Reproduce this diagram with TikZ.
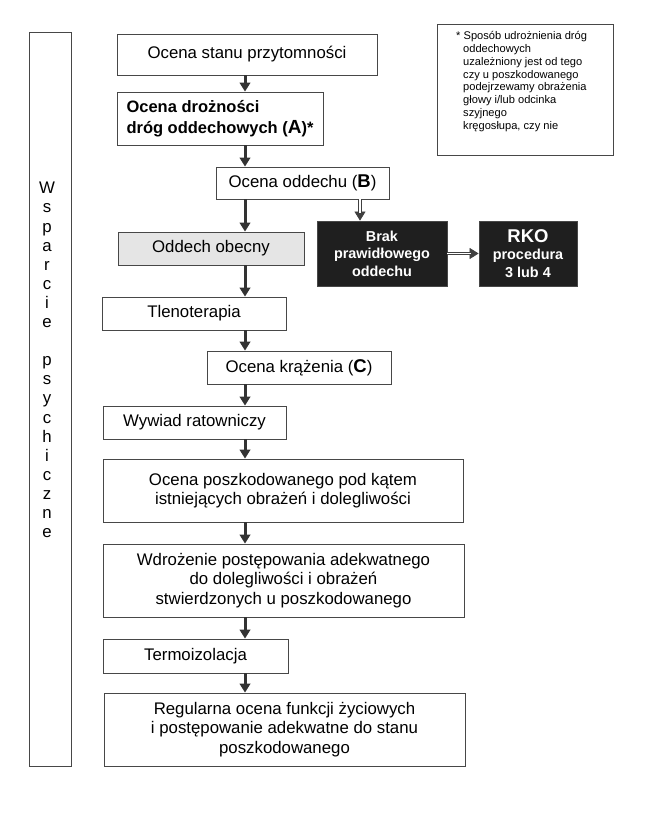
\documentclass[tikz,border=0pt]{standalone}
\usepackage{fontspec}
\setmainfont{Liberation Sans}
\usetikzlibrary{arrows.meta}
\begin{document}
\begin{tikzpicture}[x=1pt,y=-1pt,
  box/.style={draw=black!72, line width=0.8pt, inner sep=0pt, align=center,
    font=\fontsize{16.8}{19.5}\selectfont},
  greybox/.style={box, fill=black!10},
  darkbox/.style={box, fill=black!88, text=white, font=\bfseries\fontsize{14.4}{17.5}\selectfont},
  arr/.style={draw=black!80, line width=3pt, -{Triangle[length=9pt,width=10.5pt]}},
  dtip/.style={draw=black!75, fill=black!75, line width=0.6pt, -{Triangle[length=9pt,width=11pt]}},
  dshaft/.style={draw=black!75, line width=0.7pt, double=white, double distance=1.8pt, shorten >=8pt}]
\fill[white] (0,0) rectangle (648,816);
\useasboundingbox (0,0) rectangle (648,816);

% left column
\node[box, minimum width=42pt, minimum height=734pt] (side) at (50,399) {};
\node[inner sep=0pt, align=center, font=\fontsize{16.8}{19.1}\selectfont] (sidetxt) at (47,360)
  {W\\s\\p\\a\\r\\c\\i\\e\\[19.1pt]p\\s\\y\\c\\h\\i\\c\\z\\n\\e};

% note
\node[box, minimum width=176pt, minimum height=131pt] (note) at (525,89.5) {};
\node[inner sep=0pt, anchor=north west, align=left, font=\fontsize{11.1}{12.9}\selectfont] (notetxt) at (456,31)
  {* Sposób udrożnienia dróg\\
   \hspace*{7pt}oddechowych\\
   \hspace*{7pt}uzależniony jest od tego\\
   \hspace*{7pt}czy u poszkodowanego\\
   \hspace*{7pt}podejrzewamy obrażenia\\
   \hspace*{7pt}głowy i/lub odcinka\\
   \hspace*{7pt}szyjnego\\
   \hspace*{7pt}kręgosłupa, czy nie};

% main chain
\node[box, minimum width=260pt, minimum height=41pt] (b1) at (247,54.5) {Ocena stanu przytomności};
\node[box, minimum width=206pt, minimum height=53pt, align=left, font=\bfseries\fontsize{16.5}{21}\selectfont] (b2) at (220,118.5)
  {Ocena drożności\\dróg oddechowych ({\fontsize{19}{21}\selectfont A})*};
\node[box, minimum width=173pt, minimum height=32pt] (b3) at (302.5,183)
  {Ocena oddechu ({\bfseries\fontsize{18.5}{19.5}\selectfont B})};
\node[greybox, minimum width=186pt, minimum height=33pt] (obecny) at (211,248.5) {Oddech obecny};
\node[darkbox, minimum width=130pt, minimum height=65pt] (brak) at (382,253.5) {Brak\\prawidłowego\\oddechu};
\node[darkbox, minimum width=98pt, minimum height=65pt] (rko) at (528,253.5)
  {{\fontsize{18.5}{18.5}\selectfont RKO}\\procedura\\3 lub 4};
\node[box, minimum width=184pt, minimum height=33pt] (tleno) at (194,313.5) {Tlenoterapia};
\node[box, minimum width=184pt, minimum height=33pt] (kraz) at (299,367.5)
  {Ocena krążenia ({\bfseries\fontsize{18.5}{19.5}\selectfont C})};
\node[box, minimum width=183pt, minimum height=33pt] (wywiad) at (194.5,422.5) {Wywiad ratowniczy};
\node[box, minimum width=360pt, minimum height=63pt] (poszk) at (283,490.5)
  {Ocena poszkodowanego pod kątem\\istniejących obrażeń i dolegliwości};
\node[box, minimum width=361pt, minimum height=73pt] (wdroz) at (283.5,580.5)
  {Wdrożenie postępowania adekwatnego\\do dolegliwości i obrażeń\\stwierdzonych u poszkodowanego};
\node[box, minimum width=185pt, minimum height=34pt] (termo) at (195.5,656) {Termoizolacja};
\node[box, minimum width=361pt, minimum height=73pt] (regul) at (284.5,729.5)
  {Regularna ocena funkcji życiowych\\i postępowanie adekwatne do stanu\\poszkodowanego};

% arrows
\coordinate (ax) at (245,0);
\coordinate (bx) at (360,0);
\draw[arr] (b1.south -| ax) -- (b2.north -| ax);
\draw[arr] (b2.south -| ax) -- (b3.north -| ax);
\draw[arr] (b3.south -| ax) -- (obecny.north -| ax);
\draw[dtip] (b3.south -| bx) -- (brak.north -| bx);
\draw[dshaft] (b3.south -| bx) -- (brak.north -| bx);
\draw[dtip] (brak.east) -- (rko.west);
\draw[dshaft] (brak.east) -- (rko.west);
\draw[arr] (obecny.south -| ax) -- (tleno.north -| ax);
\draw[arr] (tleno.south -| ax) -- (kraz.north -| ax);
\draw[arr] (kraz.south -| ax) -- (wywiad.north -| ax);
\draw[arr] (wywiad.south -| ax) -- (poszk.north -| ax);
\draw[arr] (poszk.south -| ax) -- (wdroz.north -| ax);
\draw[arr] (wdroz.south -| ax) -- (termo.north -| ax);
\draw[arr] (termo.south -| ax) -- (regul.north -| ax);
\end{tikzpicture}
\end{document}
